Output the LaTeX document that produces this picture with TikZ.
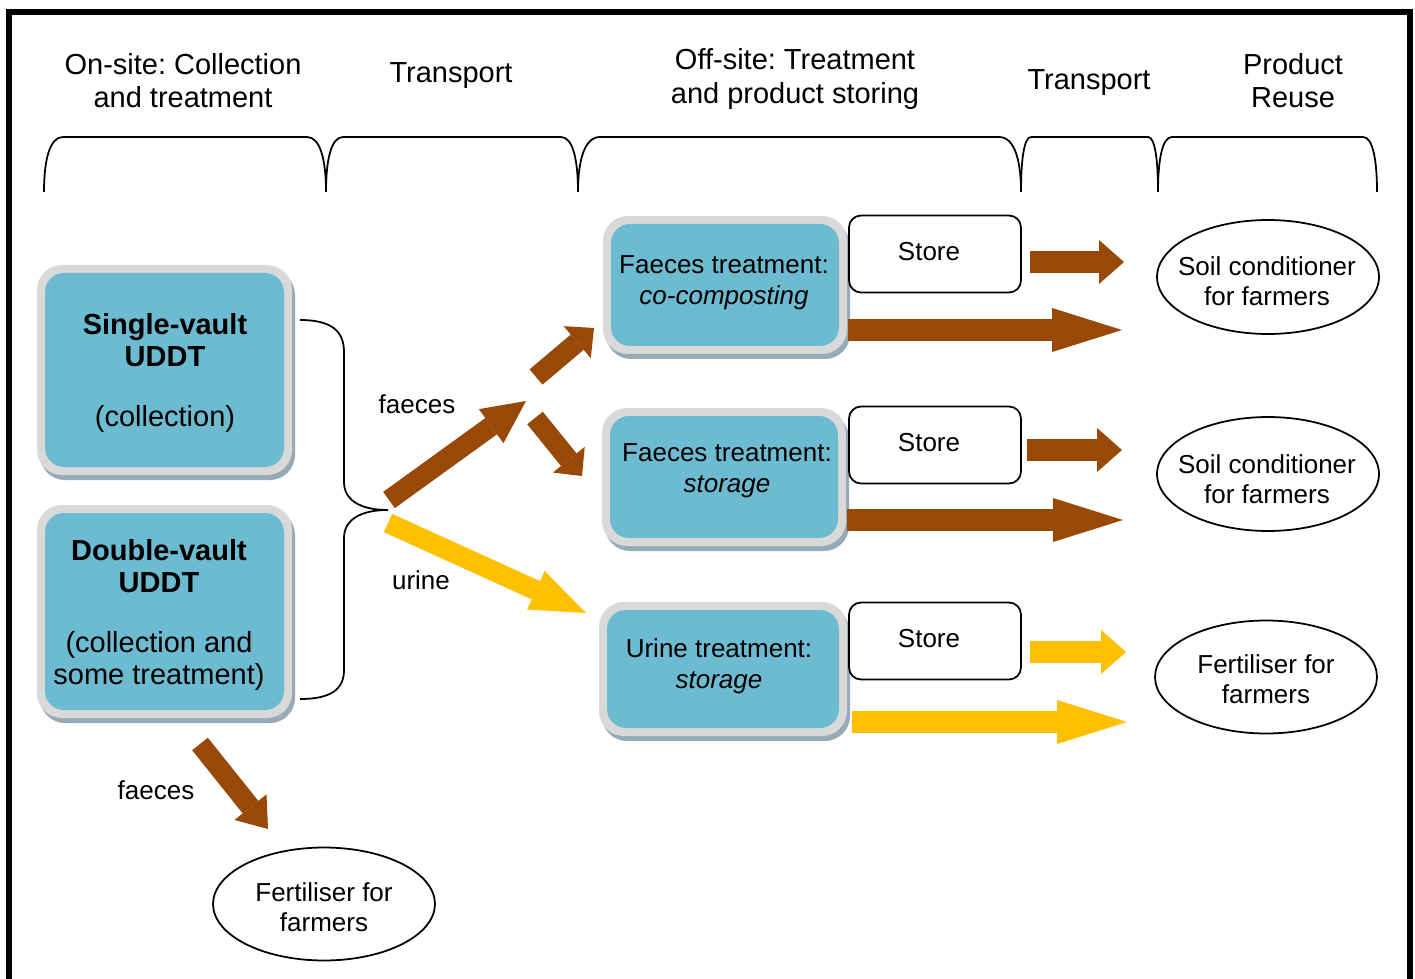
\documentclass[tikz,border=0pt]{standalone}
\usepackage{fontspec}
\setmainfont{Liberation Sans}
\frenchspacing
\usetikzlibrary{arrows.meta,shapes.geometric,calc}
\definecolor{brownc}{RGB}{152,72,7}
\definecolor{yellowc}{RGB}{255,192,0}
\definecolor{bluec}{RGB}{109,187,209}
\definecolor{greyc}{RGB}{217,217,217}
\definecolor{shadowc}{RGB}{150,170,184}
\tikzset{
  hdr/.style={align=center, font=\fontsize{16.5pt}{18.8pt}\selectfont, inner sep=0pt},
  bigtxt/.style={align=center, font=\fontsize{16.5pt}{18.4pt}\selectfont, inner sep=0pt},
  lbl/.style={align=center, font=\fontsize{14.8pt}{17.4pt}\selectfont, inner sep=0pt},
  thinline/.style={line width=1pt, black},
  storebox/.style={draw, line width=1pt, rounded corners=0.24cm, minimum width=3.44cm,
     minimum height=1.54cm, text depth=0.12cm, inner sep=0pt, font=\fontsize{14.8pt}{17.4pt}\selectfont},
  hshort/.style={line width=0.44cm, -{Triangle[length=0.5cm,width=0.88cm,line width=0pt]}},
  hlong/.style={line width=0.44cm, -{Triangle[length=1.4cm,width=0.88cm,line width=0pt]}},
  diag/.style 2 args={line width=0.4cm, -{Triangle[length=#1,width=#2,line width=0pt]}}
}
\newcommand\procbox[5]{%
  \fill[shadowc, rounded corners=0.5cm] (#2+3,#3+5) rectangle (#4+3,#5+5);
  \fill[greyc, rounded corners=0.5cm] (#2,#3) rectangle (#4,#5);
  \fill[bluec, rounded corners=0.38cm] (#2+8,#3+8) rectangle (#4-8,#5-8);
  \coordinate (#1) at ($(#2,#3)!0.5!(#4,#5)$);
}
\newcommand\hbrace[3]{%
  \draw[thinline] (#1,192) .. controls (#1,160) and (#1+0.3*#3,137) .. (#1+#3,137)
    -- (#2-#3,137) .. controls (#2-0.3*#3,137) and (#2,160) .. (#2,192);
}
\begin{document}
\begin{tikzpicture}[x=0.02cm,y=-0.02cm]
\useasboundingbox (0,0) rectangle (1415,979);
\clip (0,0) rectangle (1415,979);
\fill[white] (0,0) rectangle (1415,979);
\draw[line width=0.12cm] (9,12) rectangle (1410,1010);

% headers
\node[hdr] (h1) at (183,81) {On-site: Collection\\and treatment};
\node[hdr] (h2) at (451,76) {Transport};
\node[hdr] (h3) at (795,79) {Off-site: Treatment\\and product storing};
\node[hdr] (h4) at (1089,83) {Transport};
\node[hdr] (h5) at (1293,81) {Product\\Reuse};

% top brackets
\hbrace{44}{326}{19}
\hbrace{326}{578}{17}
\hbrace{578}{1021}{22}
\hbrace{1021}{1158}{10}
\hbrace{1158}{1377}{14}

% process boxes
\procbox{b1}{37}{265}{292}{475}
\procbox{b2}{37}{505}{292}{718}
\procbox{b3}{603}{216}{847}{354}
\procbox{b4}{602}{408}{846}{546}
\procbox{b5}{599}{602}{847}{736}

\node[bigtxt] (t1) at (165,373) {\textbf{Single-vault}\\\textbf{UDDT}\\[15.5pt](collection)};
\node[bigtxt] (t2) at (159,615) {\textbf{Double-vault}\\\textbf{UDDT}\\[15.5pt](collection and\\some treatment)};
\node[lbl] (t3) at (724,283) {Faeces treatment:\\\textit{co-composting}};
\node[lbl] (t4) at (727,471) {Faeces treatment:\\\textit{storage}};
\node[lbl] (t5) at (719,666) {Urine treatment:\\\textit{storage}};

% store boxes
\node[storebox] (s1) at (935,254) {Store\hspace*{0.24cm}};
\node[storebox] (s2) at (935,445) {Store\hspace*{0.24cm}};
\node[storebox] (s3) at (935,641) {Store\hspace*{0.24cm}};

% product ellipses
\coordinate (e1c) at (1268,277);
\coordinate (e2c) at (1268,474);
\coordinate (e3c) at (1266,677);
\coordinate (e4c) at (324,904);
\draw[thinline] (e1c) ellipse [x radius=2.22cm, y radius=1.14cm];
\draw[thinline] (e2c) ellipse [x radius=2.22cm, y radius=1.14cm];
\draw[thinline] (e3c) ellipse [x radius=2.22cm, y radius=1.13cm];
\draw[thinline] (e4c) ellipse [x radius=2.22cm, y radius=1.13cm];
\node[lbl] (e1) at (1267,281) {Soil conditioner\\for farmers};
\node[lbl] (e2) at (1267,479) {Soil conditioner\\for farmers};
\node[lbl] (e3) at (1266,679) {Fertiliser for\\farmers};
\node[lbl] (e4) at (324,907) {Fertiliser for\\farmers};

% left curly brace
\coordinate (brt) at (300,320);
\coordinate (brm) at (388,510);
\coordinate (brb) at (300,699);
\draw[thinline] (brt) .. controls (330,320) and (344,330) .. (344,352) -- (344,482)
  .. controls (344,500) and (360,510) .. (brm)
  .. controls (360,510) and (344,520) .. (344,538) -- (344,670)
  .. controls (344,690) and (330,699) .. (brb);

% flow labels
\node[lbl] (lf1) at (417,404) {faeces};
\node[lbl] (lu) at (421,580) {urine};
\node[lbl] (lf2) at (156,790) {faeces};

% diagonal arrows
\coordinate (fa0) at (389,500); \coordinate (fa1) at (526,401);
\coordinate (fu0) at (536,377); \coordinate (fu1) at (594,328);
\coordinate (fd0) at (535,418); \coordinate (fd1) at (582,476);
\coordinate (ur0) at (388,523); \coordinate (ur1) at (586,613);
\coordinate (bl0) at (200,744); \coordinate (bl1) at (268,829);
\draw[diag={0.86cm}{0.84cm}, brownc] (fa0) -- (fa1);
\draw[diag={0.44cm}{0.84cm}, brownc] (fu0) -- (fu1);
\draw[diag={0.42cm}{0.82cm}, brownc] (fd0) -- (fd1);
\draw[diag={1.1cm}{0.85cm}, yellowc] (ur0) -- (ur1);
\draw[diag={0.56cm}{0.82cm}, brownc] (bl0) -- (bl1);

% horizontal arrows
\coordinate (r1s0) at (1030,262); \coordinate (r1s1) at (1124,262);
\coordinate (r1l0) at (848,330);  \coordinate (r1l1) at (1122,330);
\coordinate (r2s0) at (1027,450); \coordinate (r2s1) at (1122,450);
\coordinate (r2l0) at (847,520);  \coordinate (r2l1) at (1123,520);
\coordinate (r3s0) at (1030,652); \coordinate (r3s1) at (1126,652);
\coordinate (r3l0) at (852,722);  \coordinate (r3l1) at (1127,722);
\draw[hshort, brownc] (r1s0) -- (r1s1);
\draw[hlong, brownc] (r1l0) -- (r1l1);
\draw[hshort, brownc] (r2s0) -- (r2s1);
\draw[hlong, brownc] (r2l0) -- (r2l1);
\draw[hshort, yellowc] (r3s0) -- (r3s1);
\draw[hlong, yellowc] (r3l0) -- (r3l1);
\end{tikzpicture}
\end{document}
